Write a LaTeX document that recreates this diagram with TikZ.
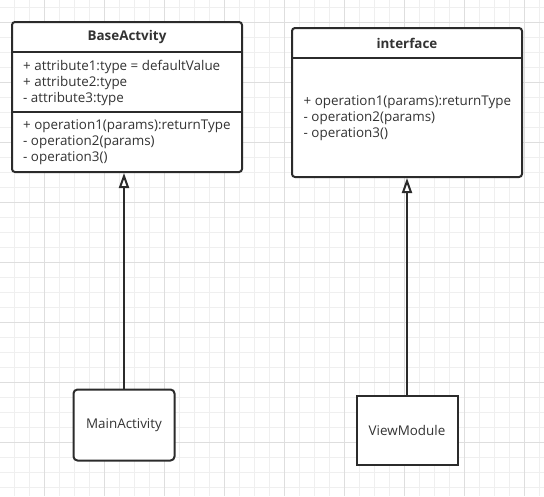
\documentclass[tikz,border=0pt]{standalone}
\usepackage{fontspec}
\setmainfont{Open Sans}
\usepackage{tikz}
\usetikzlibrary{positioning, arrows.meta}
\definecolor{uInk}{HTML}{333333}
\definecolor{uLine}{HTML}{2B2B2B}
\definecolor{gMinor}{HTML}{EFEFEF}
\definecolor{gMajor}{HTML}{DEDEDE}
\tikzset{
  classbox/.style={draw=uLine, line width=2pt, fill=white, rounded corners=3pt, inner sep=0pt},
  objbox/.style={draw=uLine, line width=2pt, fill=white, inner sep=0pt, text=uInk, font=\fontsize{13.4}{16}\selectfont},
  classname/.style={inner sep=0pt, text=uInk, font=\fontsize{13.4}{16}\selectfont\bfseries},
  member/.style={anchor=west, inner sep=0pt, align=left, text=uInk, font=\fontsize{13.4}{16}\selectfont},
  divider/.style={draw=uLine, line width=2pt},
  extends/.style={draw=uLine, line width=2pt, -{Triangle[width=10pt, length=15pt, fill=white]}}
}

\begin{document}
\begin{tikzpicture}[x=1pt, y=-1pt]
  \useasboundingbox (0,0) rectangle (544,496);
  % grid
  \foreach \gx in {14,29,...,539} \draw[gMinor, line width=0.8pt] (\gx,0) -- (\gx,496);
  \foreach \gy in {7,22,...,494} \draw[gMinor, line width=0.8pt] (0,\gy) -- (544,\gy);
  \foreach \gx in {44,104,...,524} \draw[gMajor, line width=0.8pt] (\gx,0) -- (\gx,496);
  \foreach \gy in {22,82,...,442} \draw[gMajor, line width=0.8pt] (0,\gy) -- (544,\gy);

  % BaseActvity class
  \node[classbox, minimum width=230pt, minimum height=150pt] (base) at (127,97) {};
  \node[classname] (baseName) at (127,37) {BaseActvity};
  \draw[divider] (base.west |- 0,52) -- (base.east |- 0,52);
  \node[member] (baseAttr) at (23,82.5) {+ attribute1:type = defaultValue\\+ attribute2:type\\- attribute3:type};
  \draw[divider] (base.west |- 0,112) -- (base.east |- 0,112);
  \node[member] (baseOps) at (23,142.5) {+ operation1(params):returnType\\- operation2(params)\\- operation3()};

  % interface
  \node[classbox, minimum width=230pt, minimum height=149pt] (iface) at (407,102.5) {};
  \node[classname] (ifaceName) at (407,43.5) {interface};
  \draw[divider] (iface.west |- 0,58) -- (iface.east |- 0,58);
  \node[member] (ifaceOps) at (303.5,118.5) {+ operation1(params):returnType\\- operation2(params)\\- operation3()};

  % implementations
  \node[objbox, rounded corners=4pt, minimum width=101pt, minimum height=71pt] (main) at (124,425) {MainActivity};
  \node[objbox, minimum width=101pt, minimum height=69pt] (view) at (407,430) {ViewModule};

  \draw[extends] (main.north) -- (main.north |- base.south);
  \draw[extends] (view.north) -- (iface.south);
\end{tikzpicture}
\end{document}
